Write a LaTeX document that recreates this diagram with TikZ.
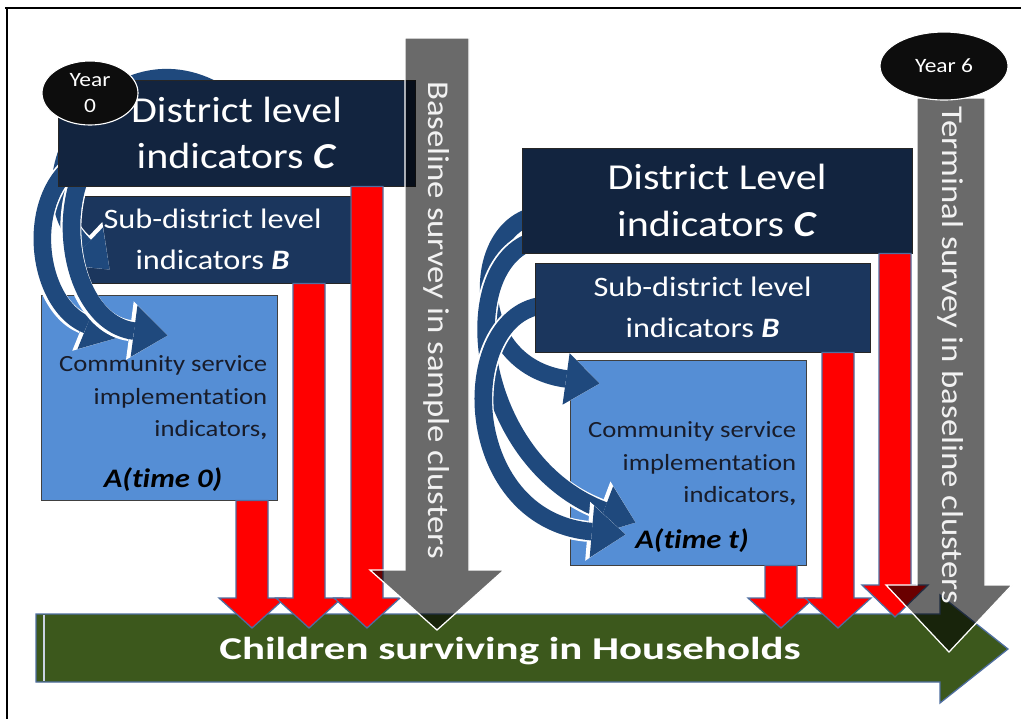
\documentclass[tikz,border=0pt]{standalone}
\usepackage{fontspec}
\setmainfont{Carlito}[FakeStretch=1.15, Ligatures=NoCommon]
\newfontfamily\barfont{Carlito}[FakeStretch=1.35, Ligatures=NoCommon]
\usetikzlibrary{positioning,shapes.geometric,arrows.meta,calc}

\definecolor{navyC}{RGB}{18,36,63}
\definecolor{navyB}{RGB}{27,54,93}
\definecolor{commblue}{RGB}{85,142,213}
\definecolor{curveblue}{RGB}{31,73,125}
\definecolor{edgeblue}{RGB}{79,110,160}
\definecolor{surveygray}{RGB}{106,106,106}
\definecolor{hhgreen}{RGB}{60,88,28}
\definecolor{commtext}{RGB}{24,28,42}
\newcommand\pxl{0.025cm}

\begin{document}
\begin{tikzpicture}[x=0.025cm, y=-0.025cm]
    \tikzset{
      levelbox/.style={draw=black!85, line width=0.7pt, text=white, align=center, inner sep=0pt},
      commbox/.style={draw=black!75, fill=commblue, line width=0.7pt, minimum width=236*\pxl, minimum height=205*\pxl},
      commlines/.style={text=commtext, align=right, font=\fontsize{16.5}{23}\selectfont, inner sep=0pt},
      commtime/.style={font=\fontsize{19}{23}\selectfont\bfseries\itshape, inner sep=0pt},
      yearmark/.style={ellipse, draw=white, line width=0.8pt, fill=black!95, text=white, align=center, inner sep=0pt, font=\fontsize{14.5}{18.5}\selectfont},
      flow/.style={draw=curveblue, line width=12.5pt, -{Triangle[length=24pt, width=37pt, line width=0pt]},
        preaction={draw=white, line width=15pt, -{Triangle[length=27pt, width=42pt, line width=0pt]}}},
      redarrow/.style={fill=red, draw=edgeblue, line width=0.9pt, line join=miter},
      surveyarrow/.style={fill=surveygray, blend mode=multiply},
      surveyedge/.style={draw=white, line width=0.9pt},
      surveytext/.style={rotate=-90, text=white!95!black, font=\fontsize{21.5}{24}\selectfont, inner sep=0pt}
    }

    \useasboundingbox (0,0) rectangle (1021,719);
    % frame
    \draw[line width=1.4pt] (5,8) -- (1021,8) (7,8) -- (7,719);

    % Year 0 side
    \node[commbox] (aL) at (159,397.5) {};
    \node[levelbox, fill=navyB, minimum width=275*\pxl, minimum height=87*\pxl, font=\fontsize{20}{29}\selectfont] (bL) at (212.5,239.5) {Sub-district level\\indicators \textbf{\textit{B}}};
    \coordinate (srcL1) at (230,100);
    \coordinate (srcL2) at (120,150);
    \coordinate (srcL3) at (170,120);
    \draw[flow] (srcL1) .. controls (120,20) and (10,175) .. ([shift={(35,30)}]bL.west);
    \draw[flow] (srcL2) .. controls (20,150) and (25,300) .. ([shift={(78,-60)}]aL.west);
    \draw[flow] (srcL3) .. controls (40,110) and (50,320) .. ([shift={(127,-62)}]aL.west);
    \node[levelbox, fill=navyC, minimum width=357*\pxl, minimum height=106*\pxl, font=\fontsize{26}{33}\selectfont] (cL) at (236.5,133) {District level\\indicators \textbf{\textit{C}}};
    \node[commlines, anchor=north east] (aLlines) at ($(aL.north east)+(-10,61)$) {Community service\\implementation\\indicators\textbf{,}};
    \node[commtime, anchor=base] (aLtime) at ($(aL.south)+(4,-13)$) {A(time 0)};

    % Year 6 side
    \node[commbox] (aR) at (688,462.5) {};
    \coordinate (srcR1) at (540,215);
    \coordinate (srcR2) at (545,238);
    \coordinate (srcR3) at (550,305);
    \draw[flow] (srcR1) .. controls (470,222) and (465,365) .. ([shift={(30,24)}]aR.north west);
    \draw[flow] (srcR2) .. controls (450,250) and (470,460) .. ([shift={(66,163)}]aR.north west);
    \draw[flow] (srcR3) .. controls (455,305) and (455,520) .. ([shift={(56,175)}]aR.north west);
    \node[levelbox, fill=navyB, minimum width=335*\pxl, minimum height=89*\pxl, font=\fontsize{20}{29}\selectfont] (bR) at (702.5,307.5) {Sub-district level\\indicators \textbf{\textit{B}}};
    \node[levelbox, fill=navyC, minimum width=390*\pxl, minimum height=105*\pxl, font=\fontsize{26}{33}\selectfont] (cR) at (717,200.5) {District Level\\indicators \textbf{\textit{C}}};
    \node[commlines, anchor=north east] (aRlines) at ($(aR.north east)+(-10,62)$) {Community service\\implementation\\indicators\textbf{,}};
    \node[commtime, anchor=base] (aRtime) at ($(aR.south)+(4,-17)$) {A(time t)};

    % households bar
    \draw[fill=hhgreen, draw=edgeblue, line width=0.9pt] (36,614) -- (940,614) -- (940,595) -- (1008,649) -- (940,703) -- (940,682) -- (36,682) -- cycle;
    \draw[white!70!edgeblue, line width=0.8pt] (44,615) -- (44,681);
    \node[text=white, font=\barfont\bfseries\fontsize{22.6}{26}\selectfont] (hh) at (510,651) {Children surviving in Households};

    % indicator arrows into the bar
    \foreach \x/\src/\hb/\tip in {252/aL/598/628, 309/bL/598/628, 367/cL/598/628, 781/aR/598/628, 838/bR/598/628, 895/cR/585/617}
      \draw[redarrow] (\x-16,0 |- \src.south) -- (\x+16,0 |- \src.south) -- (\x+16,\hb) -- (\x+33,\hb) -- (\x,\tip) -- (\x-33,\hb) -- (\x-16,\hb) -- cycle;

    % surveys
    \fill[surveyarrow] (405,38) -- (469,38) -- (469,570) -- (504,570) -- (437,630) -- (370,570) -- (405,570) -- cycle;
    \draw[surveyedge] (405,38) -- (469,38) -- (469,570) -- (504,570) -- (437,630) -- (370,570) -- (405,570) -- cycle;
    \fill[surveyarrow] (917,98) -- (985,98) -- (985,585) -- (1012,585) -- (949,652) -- (886,585) -- (917,585) -- cycle;
    \draw[surveyedge] (917,98) -- (985,98) -- (985,585) -- (1012,585) -- (949,652) -- (886,585) -- (917,585) -- cycle;
    \node[surveytext] (baseL) at (437,320) {Baseline survey in sample clusters};
    \node[surveytext] (termR) at (951,355) {Terminal survey in baseline clusters};

    % years
    \node[yearmark, minimum width=96*\pxl, minimum height=64*\pxl] (y0) at (90,93) {Year\\0};
    \node[yearmark, minimum width=128*\pxl, minimum height=68*\pxl] (y6) at (944,66) {Year 6};
\end{tikzpicture}
\end{document}
